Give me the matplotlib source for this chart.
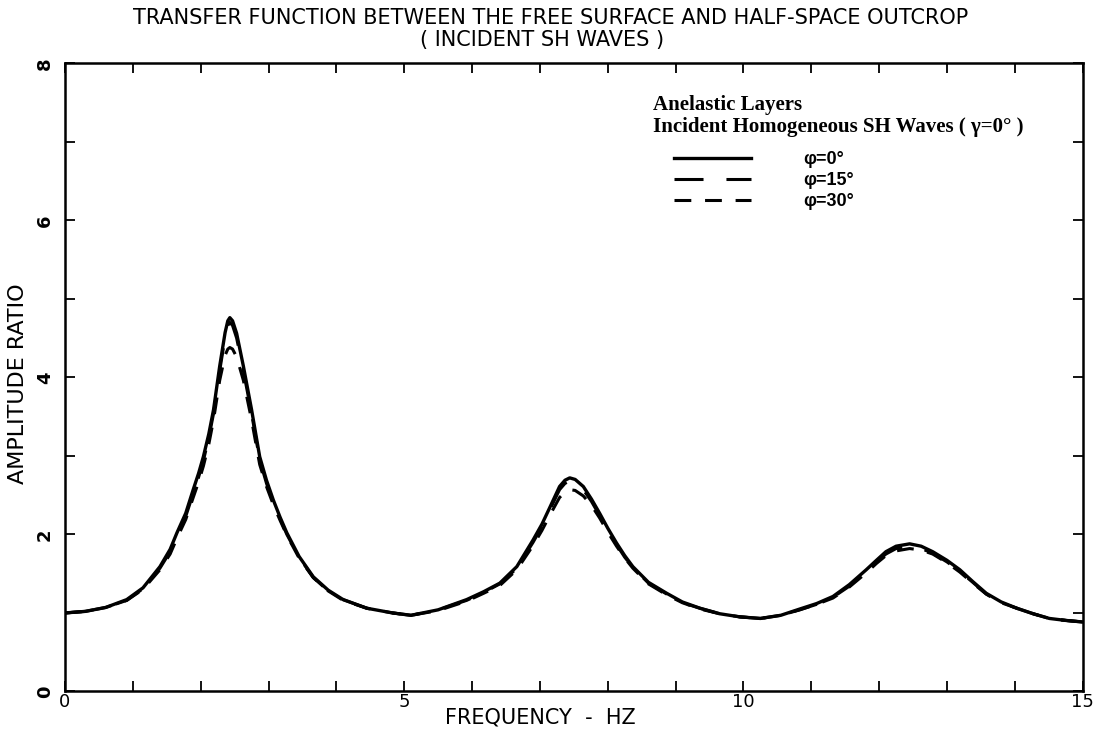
import matplotlib
matplotlib.use("Agg")
import matplotlib.pyplot as plt
from matplotlib.ticker import MultipleLocator, FixedLocator

# frequencia (Hz) e razao de amplitude
freq = [0.0, 0.3, 0.6, 0.91, 1.15, 1.4, 1.55, 1.65, 1.78, 1.89, 1.97, 2.04,
        2.12, 2.19, 2.28, 2.36, 2.4, 2.43, 2.47, 2.53, 2.63, 2.75, 2.87, 2.97,
        3.07, 3.17, 3.27, 3.45, 3.66, 3.88, 4.1, 4.45, 4.83, 5.1, 5.5, 5.92,
        6.17, 6.41, 6.66, 6.9, 7.03, 7.15, 7.29, 7.37, 7.44, 7.52, 7.64, 7.76,
        7.88, 8.0, 8.13, 8.25, 8.37, 8.6, 8.87, 9.1, 9.36, 9.65, 9.95, 10.25,
        10.55, 10.83, 11.08, 11.32, 11.56, 11.81, 11.96, 12.1, 12.25, 12.45,
        12.62, 12.79, 13.0, 13.19, 13.38, 13.58, 13.8, 14.03, 14.27, 14.51,
        14.75, 15.0]

amp_0 = [1.00, 1.02, 1.07, 1.17, 1.32, 1.59, 1.81, 2.02, 2.27, 2.57, 2.78, 2.99,
         3.28, 3.59, 4.14, 4.57, 4.72, 4.76, 4.72, 4.56, 4.14, 3.59, 2.99, 2.69,
         2.44, 2.22, 2.02, 1.72, 1.46, 1.29, 1.17, 1.06, 1.00, 0.97, 1.04, 1.17,
         1.27, 1.38, 1.59, 1.93, 2.13, 2.35, 2.61, 2.69, 2.72, 2.70, 2.61, 2.45,
         2.27, 2.08, 1.89, 1.73, 1.59, 1.39, 1.25, 1.14, 1.06, 0.99, 0.95, 0.93,
         0.97, 1.05, 1.12, 1.21, 1.36, 1.55, 1.67, 1.78, 1.85, 1.88,
         1.85, 1.78, 1.67, 1.55, 1.40, 1.25, 1.14, 1.06, 0.99, 0.93,
         0.905, 0.885]

amp_15 = [1.00, 1.02, 1.07, 1.16, 1.31, 1.57, 1.78, 1.98, 2.23, 2.52, 2.73, 2.94,
          3.23, 3.54, 4.08, 4.51, 4.66, 4.70, 4.66, 4.50, 4.08, 3.54, 2.95, 2.65,
          2.41, 2.20, 2.00, 1.71, 1.45, 1.28, 1.17, 1.06, 1.00, 0.97, 1.04, 1.16,
          1.26, 1.37, 1.57, 1.90, 2.10, 2.32, 2.57, 2.65, 2.68, 2.66, 2.57, 2.42,
          2.24, 2.05, 1.87, 1.71, 1.58, 1.38, 1.24, 1.13, 1.06, 0.99, 0.95, 0.93,
          0.97, 1.04, 1.11, 1.20, 1.34, 1.53, 1.65, 1.75, 1.82, 1.85,
          1.82, 1.76, 1.65, 1.53, 1.39, 1.24, 1.13, 1.06, 0.99, 0.93,
          0.905, 0.885]

amp_30 = [1.00, 1.02, 1.07, 1.16, 1.30, 1.55, 1.75, 1.95, 2.19, 2.47, 2.67, 2.87,
          3.15, 3.46, 3.96, 4.28, 4.36, 4.38, 4.36, 4.26, 3.96, 3.46, 2.89, 2.61,
          2.38, 2.18, 1.99, 1.70, 1.45, 1.28, 1.16, 1.06, 1.00, 0.97, 1.03, 1.15,
          1.25, 1.35, 1.55, 1.86, 2.05, 2.25, 2.47, 2.54, 2.57, 2.56, 2.49, 2.37,
          2.21, 2.03, 1.85, 1.70, 1.57, 1.37, 1.23, 1.13, 1.05, 0.99, 0.95, 0.93,
          0.97, 1.04, 1.11, 1.19, 1.33, 1.51, 1.63, 1.73, 1.79, 1.82,
          1.80, 1.75, 1.64, 1.52, 1.38, 1.24, 1.13, 1.06, 0.99, 0.93,
          0.905, 0.885]

labels = ["\u03c6=0\u00b0", "\u03c6=15\u00b0", "\u03c6=30\u00b0"]

fig = plt.figure(figsize=(11.07, 7.35), dpi=100)
ax = fig.add_axes([0.0587, 0.0592, 0.9193, 0.8548])

plot_font = "DejaVu Sans"

l30, = ax.plot(freq, amp_30, color="black", lw=2.2, dashes=(5.5, 4.5))
l15, = ax.plot(freq, amp_15, color="black", lw=2.2, dashes=(9.5, 7.5))
l0, = ax.plot(freq, amp_0, color="black", lw=2.4)

ax.set_xlim(0, 15)
ax.set_ylim(0, 8)

ax.xaxis.set_major_locator(FixedLocator([0, 5, 10, 15]))
ax.xaxis.set_minor_locator(MultipleLocator(1))
ax.yaxis.set_major_locator(FixedLocator([0, 2, 4, 6, 8]))
ax.yaxis.set_minor_locator(MultipleLocator(1))
ax.tick_params(which="both", direction="in", top=True, right=True,
               length=7, width=1.3, color="black")
ax.tick_params(axis="x", which="major", pad=1, labelsize=13)
ax.tick_params(axis="y", which="major", pad=8, labelsize=13, labelrotation=90)
for lab in ax.get_yticklabels():
    lab.set_fontweight("bold")
    lab.set_va("center")
for sp in ax.spines.values():
    sp.set_linewidth(1.8)

ax.set_xlabel("FREQUENCY  -  HZ", fontsize=15, family=plot_font)
ax.xaxis.set_label_coords(0.467, -0.042)
ax.xaxis.label.set_va("center")
ax.set_ylabel("AMPLITUDE RATIO", fontsize=16, family=plot_font)
ax.yaxis.set_label_coords(-0.046, 0.49)
ax.yaxis.label.set_va("center")

fig.text(0.497, 0.9755,
         "TRANSFER FUNCTION BETWEEN THE FREE SURFACE AND HALF-SPACE OUTCROP",
         ha="center", va="center", fontsize=15, family=plot_font)
fig.text(0.49, 0.946, "( INCIDENT SH WAVES )",
         ha="center", va="center", fontsize=15, family=plot_font)

ax.text(0.578, 0.934, "Anelastic Layers", transform=ax.transAxes,
        ha="left", va="center", fontsize=15, fontweight="bold",
        family="Liberation Serif")
ax.text(0.578, 0.899, "Incident Homogeneous SH Waves ( \u03b3=0\u00b0 )",
        transform=ax.transAxes, ha="left", va="center", fontsize=15,
        fontweight="bold", family="Liberation Serif")

ax.legend([l0, l15, l30], labels, loc="upper left",
          bbox_to_anchor=(0.598, 0.86), frameon=False, borderpad=0,
          borderaxespad=0, handlelength=4.3, handletextpad=2.9,
          labelspacing=0.22, prop={"family": "Liberation Sans",
                                   "weight": "bold", "size": 13})

fig.savefig("out.png", dpi=100)
